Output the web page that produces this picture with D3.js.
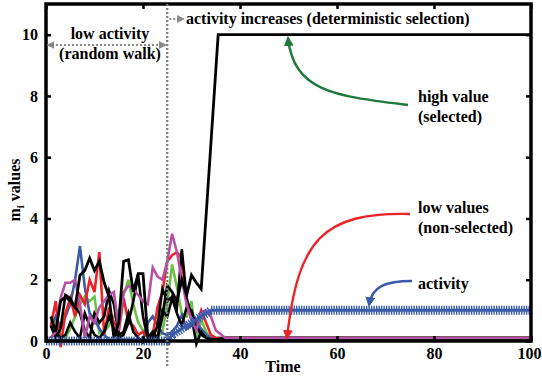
<!DOCTYPE html>
<html>
<head>
<meta charset="utf-8">
<script src="https://cdn.jsdelivr.net/npm/d3@7"></script>
<style>
  body { margin: 0; background: #fff; }
</style>
</head>
<body>
<svg id="chart" width="542" height="380"></svg>
<script>
// ---- data ----
const walkTimes = [1,2,3,4,5,6,7,8,9,10,11,12,13,14,15,16,17,18,19,20,21,22,23,24,25,26,27,28,29,30,31,32,33,34,35];
const tailTimes = [37, 100];
const tailValues = [0.1, 0.1];

const redWalk   = [0.5,1.3,-0.2,0.9,1.4,0.8,1.5,1.2,2.0,1.6,2.9,0.2,1.1,0.6,0.3,1.4,0.6,0.5,0.2,0.3,0.1,0.2,1.1,1.6,2.6,2.8,2.9,2.7,1.2,0.7,0.5,1.0,0.6,0.2,0.1];
const blueWalk  = [0.45,0.8,0.45,0.8,1.2,2.0,3.1,1.75,0.9,0.7,0.4,0.2,0.05,0.05,0.05,0.05,0.05,0.05,0.05,0.05,0.6,0.8,0.5,0.25,0.2,0.3,0.5,0.85,0.4,0.5,0.6,0.4,0.2,0.1,0.1];
const greenWalk = [0.5,0.7,0.2,0.1,0.4,0.8,1.2,1.45,1.3,1.45,0.25,0.3,0.5,0.8,1.0,1.5,2.0,1.2,0.6,0.35,0.2,0.1,0.1,0.3,1.2,2.5,1.75,0.9,0.8,1.3,-0.05,0.7,0.3,0.1,0.1];
const magentaWalk = [0.1,0.3,1.4,1.9,1.9,2.0,1.2,0.1,0.8,0.6,1.1,1.3,1.5,1.6,0.35,1.6,1.8,1.7,1.5,1.3,1.2,2.4,2.1,2.0,2.6,3.5,2.9,2.0,1.2,0.7,0.35,0.9,1.0,0.8,0.35];
const blackWalkB = [0.5,0.1,0.4,1.5,1.4,1.1,0.9,0.35,0.1,0.9,0.6,0.8,1.65,1.2,0.2,0.3,0.9,0.3,0.1,-0.05,0.1,0.2,0.1,1.0,0.8,1.4,0.9,0.5,1.1,1.0,0.5,0.2,0.1,0.05,0.05];
const blackWalkC = [0.1,0.3,0.1,0.2,0.6,0.3,0.1,0.9,0.5,0.2,0.1,0.3,0.8,0.4,0.1,0.2,0.6,1.3,2.15,0.8,0.05,0.1,0.5,1.7,1.3,1.45,1.1,3.0,1.4,0.8,-0.1,0.3,0.1,0.05,0.05];

// selected unit: random walk, then climbs to the high value
const selectedTimes  = [1,2,3,4,5,6,7,8,9,10,11,12,13,14,15,16,17,18,19,20,21,22,23,24,25,26,27,28,29,30,31,32,35.5,100];
const selectedValues = [0.8,0.3,1.3,1.45,1.3,1.1,2.15,2.3,2.7,2.3,2.6,1.9,1.45,0.1,0.6,2.6,2.65,1.6,2.2,2.2,0.1,0.3,0.1,0.8,1.8,1.6,1.3,2.0,1.5,2.15,1.9,1.7,10,10];

const activityTimes  = [0,25,26,27,28,29,30,31,32,33,34,35,100];
const activityValues = [0,0,0.2,0.3,0.4,0.5,0.6,0.7,0.8,0.9,1.0,1.0,1.0];

const xTicks = [0,20,40,60,80,100];
const yTicks = [0,2,4,6,8,10];
const switchTime = 25;

// ---- layout ----
const mLeft = 46, mRight = 531, mTop = 4, mBottom = 341;
const serif = "Liberation Serif";
const fs = 16;

const svg = d3.select("#chart");
const x = d3.scaleLinear().domain([0, 100]).range([mLeft, mRight]);
const y = d3.scaleLinear().domain([0, 11]).range([mBottom, mTop]);

const line = d3.line().x(d => x(d[0])).y(d => y(d[1]));
function pairs(ts, vs) { return ts.map((t, i) => [t, vs[i]]); }
function withTail(vs) { return pairs(walkTimes.concat(tailTimes), vs.concat(tailValues)); }

// markers for arrow heads
const defs = svg.append("defs");
function head(id, color, size) {
  defs.append("marker")
    .attr("id", id)
    .attr("viewBox", "0 0 10 10")
    .attr("refX", 8).attr("refY", 5)
    .attr("markerWidth", size).attr("markerHeight", size)
    .attr("markerUnits", "userSpaceOnUse")
    .attr("orient", "auto-start-reverse")
    .append("path").attr("d", "M0,0 L10,5 L0,10 Z").attr("fill", color);
}
head("hGreen", "#1d7a3c", 10);
head("hRed", "#ec2227", 10);
head("hBlue", "#3a5ba8", 10);
head("hGray", "#8a8a8a", 8);

// ---- series ----
const walks = [
  { color: "#6cc04a", vals: greenWalk },
  { color: "#3a5ba8", vals: blueWalk },
  { color: "#ec2227", vals: redWalk },
  { color: "#000000", vals: blackWalkB },
  { color: "#000000", vals: blackWalkC },
  { color: "#b552a8", vals: magentaWalk }
];

svg.append("g").selectAll("path")
  .data(walks)
  .join("path")
  .attr("d", d => line(withTail(d.vals)))
  .attr("fill", "none")
  .attr("stroke", d => d.color)
  .attr("stroke-width", 2.6)
  .attr("stroke-linejoin", "miter");

svg.append("path")
  .attr("d", line(pairs(selectedTimes, selectedValues)))
  .attr("fill", "none")
  .attr("stroke", "#000")
  .attr("stroke-width", 2.8);

// activity: thick blue line with dense cross marks
const act = pairs(activityTimes, activityValues);
svg.append("path")
  .attr("d", line(act))
  .attr("fill", "none")
  .attr("stroke", "#3a5ba8")
  .attr("stroke-width", 3);
svg.append("path")
  .attr("d", line(act))
  .attr("fill", "none")
  .attr("stroke", "#3a5ba8")
  .attr("stroke-width", 9)
  .attr("stroke-dasharray", "1.4,1.1");

// ---- axes / frame ----
const frame = svg.append("g");
frame.append("g")
  .attr("transform", "translate(0," + mBottom + ")")
  .call(d3.axisBottom(x).tickValues(xTicks).tickSizeInner(-5).tickSizeOuter(0).tickPadding(7));
frame.append("g")
  .attr("transform", "translate(" + mLeft + ",0)")
  .call(d3.axisLeft(y).tickValues(yTicks).tickSizeInner(-5).tickSizeOuter(0).tickPadding(8));
frame.append("g")
  .attr("transform", "translate(0," + mTop + ")")
  .call(d3.axisTop(x).tickValues(xTicks).tickSizeInner(-5).tickSizeOuter(0).tickFormat(""));
frame.append("g")
  .attr("transform", "translate(" + mRight + ",0)")
  .call(d3.axisRight(y).tickValues(yTicks).tickSizeInner(-5).tickSizeOuter(0).tickFormat(""));

frame.selectAll(".domain").remove();
frame.selectAll("g").attr("font-family", serif);
frame.selectAll(".tick line").attr("stroke", "#000").attr("stroke-width", 2.5);
frame.selectAll(".tick text")
  .attr("font-family", serif)
  .attr("font-size", fs)
  .attr("font-weight", "bold")
  .attr("fill", "#000");
// keep "100" inside the picture
frame.selectAll(".tick text").filter(d => d === 100).attr("text-anchor", "end").attr("dx", 10);

frame.append("rect")
  .attr("x", mLeft).attr("y", mTop)
  .attr("width", mRight - mLeft).attr("height", mBottom - mTop)
  .attr("fill", "none")
  .attr("stroke", "#000")
  .attr("stroke-width", 3.5);

// axis titles
svg.append("text")
  .attr("x", 283).attr("y", 372)
  .attr("text-anchor", "middle")
  .attr("font-family", serif)
  .attr("font-weight", "bold")
  .attr("font-size", fs)
  .text("Time");

const yl = svg.append("text")
  .attr("transform", "translate(20,190) rotate(-90)")
  .attr("text-anchor", "middle")
  .attr("font-family", serif)
  .attr("font-weight", "bold")
  .attr("font-size", fs);
yl.append("tspan").text("m");
yl.append("tspan").attr("font-size", 11).attr("dy", 4).text("i");
yl.append("tspan").attr("dy", -4).text(" values");

// ---- annotations ----
const xs = x(switchTime);
svg.append("line")
  .attr("x1", xs).attr("x2", xs)
  .attr("y1", mTop).attr("y2", 368)
  .attr("stroke", "#777")
  .attr("stroke-width", 2.2)
  .attr("stroke-dasharray", "2,2");

svg.append("line")
  .attr("x1", mLeft + 2).attr("x2", xs - 2)
  .attr("y1", 45).attr("y2", 45)
  .attr("stroke", "#8a8a8a")
  .attr("stroke-width", 2)
  .attr("stroke-dasharray", "2,2")
  .attr("marker-start", "url(#hGray)")
  .attr("marker-end", "url(#hGray)");

svg.append("line")
  .attr("x1", xs + 2).attr("x2", xs + 16)
  .attr("y1", 19).attr("y2", 19)
  .attr("stroke", "#8a8a8a")
  .attr("stroke-width", 2)
  .attr("stroke-dasharray", "2,2")
  .attr("marker-end", "url(#hGray)");

function label(px, py, lines, anchor) {
  const t = svg.append("text").attr("x", px).attr("y", py)
    .attr("font-family", serif).attr("font-weight", "bold").attr("font-size", fs)
    .attr("text-anchor", anchor || "start");
  lines.forEach((s, i) => t.append("tspan").attr("x", px).attr("dy", i ? 20 : 0).text(s));
  return t;
}
label(110, 39, ["low activity", "(random walk)"], "middle");
label(186, 24, ["activity increases (deterministic selection)"]);
label(418, 102, ["high value", "(selected)"]);
label(418, 213, ["low values", "(non-selected)"]);
label(418, 289, ["activity"]);

function curve(d, color, id) {
  svg.append("path")
    .attr("d", d)
    .attr("fill", "none")
    .attr("stroke", color)
    .attr("stroke-width", 2.4)
    .attr("marker-end", "url(#" + id + ")");
}
curve("M408,105 C335,96 294,92 288,38", "#1d7a3c", "hGreen");
curve("M410,214 C322,212 298,240 287,338", "#ec2227", "hRed");
curve("M412,281 C386,281 372,286 369,305", "#3a5ba8", "hBlue");
</script>
</body>
</html>
